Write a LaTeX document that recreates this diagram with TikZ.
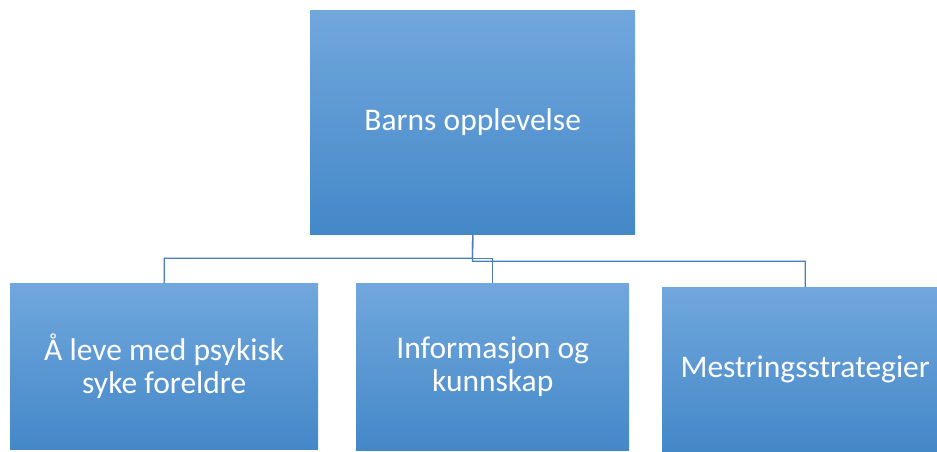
\documentclass[tikz,border=0pt]{standalone}
\usepackage{fontspec}
\setmainfont{Carlito}
\definecolor{gtop}{HTML}{71A7DD}
\definecolor{gmid}{HTML}{5C9DDA}
\definecolor{gbot}{HTML}{4488C8}
\definecolor{conncol}{HTML}{4A7EBB}
\begin{document}
\begin{tikzpicture}[x=1pt,y=-1pt,
  box/.style={rectangle, anchor=north west, inner sep=0pt, top color=gtop, middle color=gmid, bottom color=gbot, draw=none, text=white, align=center, font=\fontsize{31.5}{33}\selectfont},
  conn/.style={draw=conncol, line width=1.3pt}]
\useasboundingbox (0,0) rectangle (937,451);
\node[box, minimum width=325pt, minimum height=224pt] (top) at (310,10) {Barns opplevelse};
\node[box, minimum width=308pt, minimum height=166pt] (left) at (10,283) {Å leve med psykisk\\syke foreldre};
\node[box, minimum width=273pt, minimum height=167pt] (mid) at (356,283) {Informasjon og\\kunnskap};
\node[box, minimum width=286pt, minimum height=164pt] (right) at (662,287) {Mestringsstrategier};
\coordinate (bus1) at (472.5,258.3);
\coordinate (bus2) at (472.5,261.3);
\draw[conn] (top.south) -- (bus1) -| (left.north);
\draw[conn] (bus1) -| (mid.north);
\draw[conn] (top.south) -- (bus2) -| (right.north);
\end{tikzpicture}
\end{document}
